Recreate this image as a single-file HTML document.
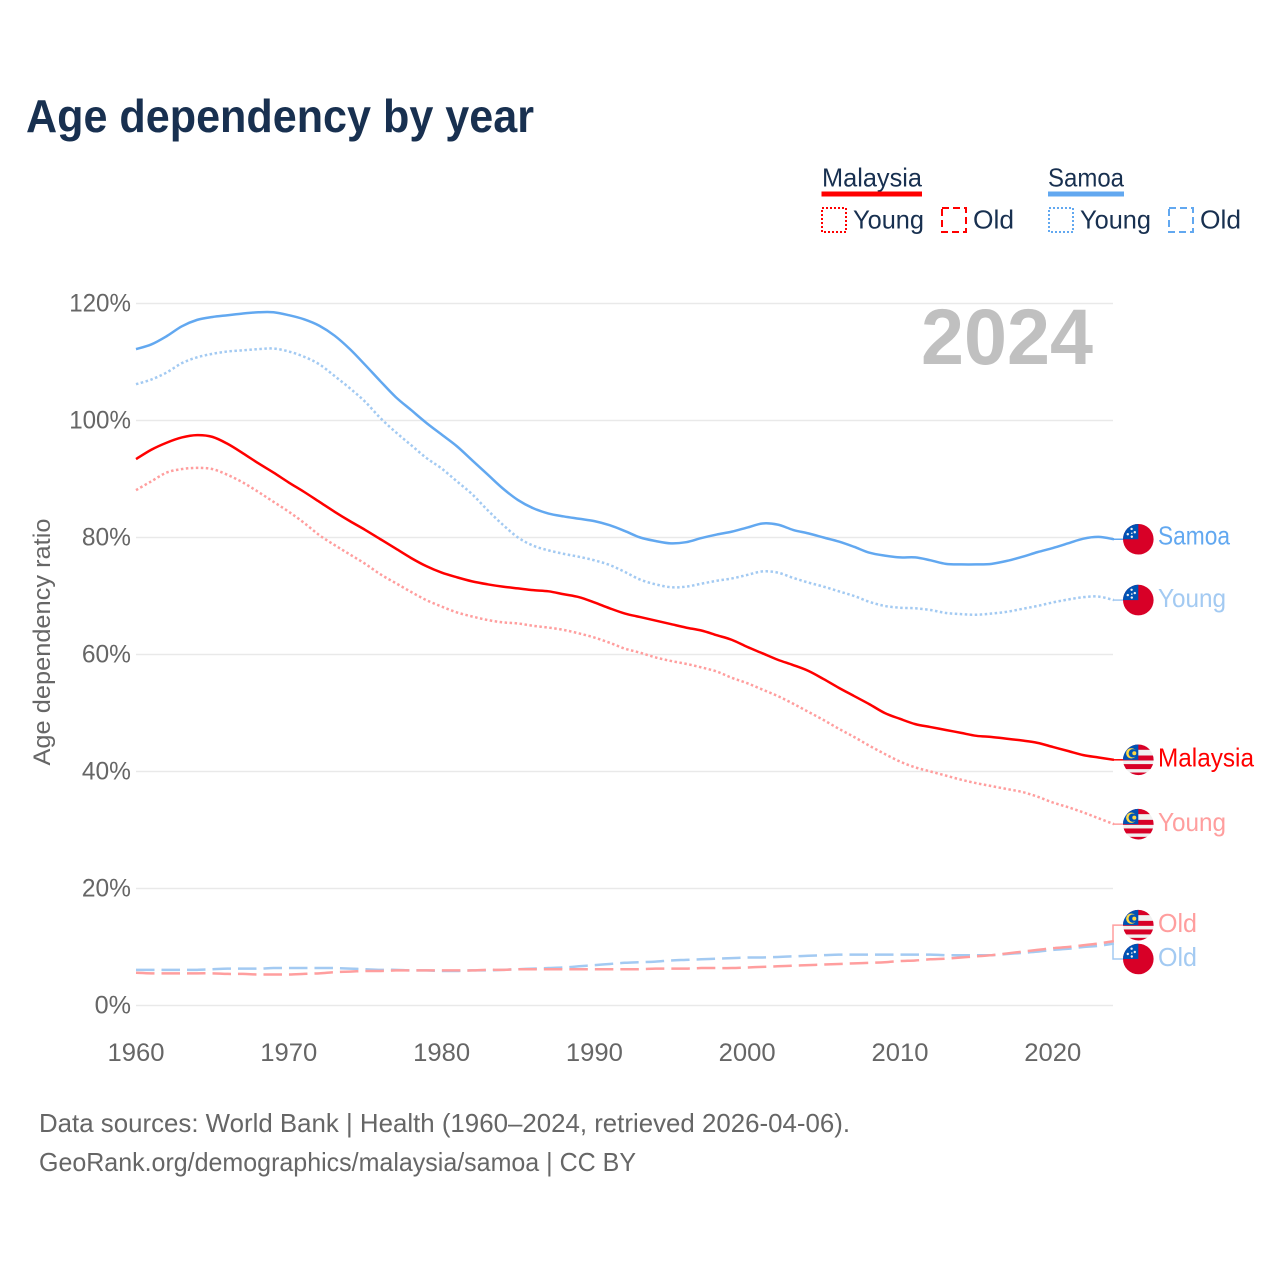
<!DOCTYPE html>
<html lang="en">
<head>
<meta charset="utf-8">
<title>Age dependency by year</title>
<style>
html,body{margin:0;padding:0;background:#fff;}
svg{display:block;font-family:"Liberation Sans",sans-serif;}
</style>
</head>
<body>
<svg id="chart" width="1280" height="1280" viewBox="0 0 1280 1280" xmlns="http://www.w3.org/2000/svg">
<defs>
<clipPath id="flag-clip"><circle cx="0" cy="0" r="15.3"/></clipPath>
<g id="flag-my" clip-path="url(#flag-clip)">
  <rect x="-16" y="-16" width="32" height="32" fill="#f0f0f0"/>
  <rect x="-16" y="-16" width="32" height="6" fill="#d80027"/>
  <rect x="-16" y="-4.3" width="32" height="5" fill="#d80027"/>
  <rect x="-16" y="4.3" width="32" height="5" fill="#d80027"/>
  <rect x="-16" y="12.7" width="32" height="4" fill="#d80027"/>
  <rect x="-16" y="-16" width="16" height="16" fill="#0052b4"/>
  <circle cx="-7" cy="-6.5" r="5.2" fill="#ffda44"/>
  <circle cx="-5.5" cy="-6.5" r="4.2" fill="#0052b4"/>
  <circle cx="-4" cy="-6.5" r="2" fill="#ffda44"/>
</g>
<g id="flag-ws" clip-path="url(#flag-clip)">
  <rect x="-16" y="-16" width="32" height="32" fill="#d80027"/>
  <rect x="-16" y="-16" width="16" height="16" fill="#0052b4"/>
  <circle cx="-6.7" cy="-10.3" r="1.2" fill="#f0f0f0"/>
  <circle cx="-3.5" cy="-7" r="1.2" fill="#f0f0f0"/>
  <circle cx="-10.5" cy="-5" r="1.2" fill="#f0f0f0"/>
  <circle cx="-6.5" cy="-6" r="0.8" fill="#f0f0f0"/>
  <circle cx="-6.5" cy="-2.5" r="1.2" fill="#f0f0f0"/>
</g>
</defs>

<text x="26" y="132" font-size="46" font-weight="700" fill="#183050" textLength="508" lengthAdjust="spacingAndGlyphs">Age dependency by year</text>

<g>
  <g>
    <text x="822" y="186.5" font-size="26" fill="#183050" textLength="100" lengthAdjust="spacingAndGlyphs">Malaysia</text>
    <rect x="821.5" y="191.5" width="100.5" height="5" fill="#ff0000"/>
    <rect x="822" y="208" width="24" height="24" fill="none" stroke="#ff0000" stroke-width="2" stroke-dasharray="2 2"/>
    <text x="853" y="228.5" font-size="26" fill="#183050" textLength="71" lengthAdjust="spacingAndGlyphs">Young</text>
    <rect x="942" y="208" width="24" height="24" fill="none" stroke="#ff0000" stroke-width="2" stroke-dasharray="7 4"/>
    <text x="973" y="228.5" font-size="26" fill="#183050" textLength="41" lengthAdjust="spacingAndGlyphs">Old</text>
  </g>
  <g>
    <text x="1048" y="186.5" font-size="26" fill="#183050" textLength="76" lengthAdjust="spacingAndGlyphs">Samoa</text>
    <rect x="1048" y="191.5" width="76" height="5" fill="#62a8f0"/>
    <rect x="1049" y="208" width="24" height="24" fill="none" stroke="#62a8f0" stroke-width="2" stroke-dasharray="2 2"/>
    <text x="1080" y="228.5" font-size="26" fill="#183050" textLength="71" lengthAdjust="spacingAndGlyphs">Young</text>
    <rect x="1169" y="208" width="24" height="24" fill="none" stroke="#62a8f0" stroke-width="2" stroke-dasharray="7 4"/>
    <text x="1200" y="228.5" font-size="26" fill="#183050" textLength="41" lengthAdjust="spacingAndGlyphs">Old</text>
  </g>
</g>

<g id="grid"></g>
<g id="y-ticks"></g>
<g id="x-ticks"></g>

<text transform="translate(50,642) rotate(-90)" text-anchor="middle" font-size="24" fill="#666666" textLength="247" lengthAdjust="spacingAndGlyphs">Age dependency ratio</text>

<text x="921" y="364" font-size="79" font-weight="700" fill="#c0c0c0" textLength="172" lengthAdjust="spacingAndGlyphs">2024</text>

<g id="series"></g>
<g id="end-labels"></g>

<text x="39" y="1132" font-size="26" fill="#666666" textLength="811" lengthAdjust="spacingAndGlyphs">Data sources: World Bank | Health (1960–2024, retrieved 2026-04-06).</text>
<text x="39" y="1171" font-size="26" fill="#666666" textLength="597" lengthAdjust="spacingAndGlyphs">GeoRank.org/demographics/malaysia/samoa | CC BY</text>

<script>
const startYear = 1960;
const xTickYears = [1960, 1970, 1980, 1990, 2000, 2010, 2020];
const yTickValues = [0, 20, 40, 60, 80, 100, 120];

const samoaTotal = [112.2,113,114.4,116.1,117.2,117.7,118,118.3,118.5,118.5,
118,117.3,116.2,114.5,112.2,109.5,106.7,104,101.8,99.6,
97.6,95.6,93.2,90.8,88.4,86.4,85,84.1,83.6,83.2,
82.8,82.1,81.1,80,79.4,79,79.2,79.9,80.5,81,
81.7,82.4,82.2,81.3,80.7,80,79.3,78.4,77.4,76.9,
76.6,76.6,76.1,75.5,75.4,75.4,75.5,76,76.7,77.5,
78.2,79,79.8,80.1,79.7];
const samoaYoung = [106.2,107,108.2,109.8,110.8,111.4,111.8,112,112.2,112.3,
111.8,110.9,109.6,107.6,105.5,103.2,100.4,98,95.8,93.6,
91.8,89.6,87.4,84.7,82.2,80,78.6,77.8,77.2,76.7,
76.1,75.3,74.1,72.8,72,71.5,71.6,72.1,72.6,73,
73.6,74.2,74,73.1,72.3,71.6,70.8,70,69,68.3,
68,67.9,67.6,67.1,66.9,66.8,67,67.3,67.8,68.3,
68.9,69.4,69.8,69.9,69.3];
const samoaOld = [6.1,6.1,6.1,6.1,6.1,6.2,6.3,6.3,6.3,6.4,
6.4,6.4,6.4,6.4,6.3,6.2,6.1,6.1,6,6,
5.9,5.9,6,6,6.1,6.2,6.3,6.4,6.5,6.7,
6.9,7.1,7.3,7.4,7.5,7.7,7.8,7.9,8,8.1,
8.2,8.2,8.3,8.4,8.5,8.6,8.7,8.7,8.7,8.7,
8.7,8.7,8.7,8.6,8.6,8.6,8.6,8.8,9,9.2,
9.5,9.7,10,10.2,10.6];
const malaysiaTotal = [93.4,95,96.2,97.1,97.5,97.2,96,94.4,92.7,91.1,
89.4,87.8,86.1,84.4,82.8,81.3,79.7,78.1,76.5,75.1,
74,73.2,72.5,72,71.6,71.3,71,70.8,70.3,69.8,
68.9,67.9,67,66.4,65.8,65.2,64.6,64.1,63.3,62.5,
61.3,60.2,59.1,58.2,57.2,55.8,54.3,52.9,51.5,50,
49,48.1,47.6,47.1,46.6,46.1,45.9,45.6,45.3,44.9,
44.2,43.5,42.8,42.4,42];
const malaysiaYoung = [88.1,89.6,91.1,91.7,91.9,91.7,90.7,89.4,87.8,86.1,
84.4,82.5,80.4,78.7,77.1,75.5,73.7,72.2,70.7,69.3,
68.2,67.2,66.5,65.9,65.5,65.3,64.9,64.6,64.2,63.6,
62.9,62,61,60.3,59.5,58.9,58.4,57.8,57.1,56,
55.1,54,52.9,51.6,50.2,48.8,47.3,45.9,44.4,43,
41.7,40.7,40,39.3,38.6,38,37.5,37,36.5,35.7,
34.7,33.9,33,32,31];
const malaysiaOld = [5.6,5.5,5.5,5.5,5.5,5.5,5.4,5.4,5.3,5.3,
5.3,5.4,5.5,5.7,5.8,5.9,5.9,6,6,6,
6,6,6,6.1,6.1,6.2,6.2,6.2,6.2,6.2,
6.2,6.2,6.2,6.2,6.3,6.3,6.3,6.4,6.4,6.4,
6.5,6.6,6.7,6.8,6.9,7,7.1,7.2,7.3,7.4,
7.6,7.7,7.9,8,8.2,8.4,8.6,8.9,9.2,9.5,
9.8,10,10.3,10.6,11];

const NS = 'http://www.w3.org/2000/svg';
function xScale(year) { return 136 + (year - 1960) * 15.28; }
function yScale(value) { return 1005.5 - value * 5.85; }
function mk(tag, parent, attrs, text) {
  const node = document.createElementNS(NS, tag);
  for (const k in attrs) node.setAttribute(k, attrs[k]);
  if (text !== undefined) node.textContent = text;
  parent.appendChild(node);
  return node;
}
function pathOf(values) {
  const pts = values.map(function (v, i) { return [xScale(startYear + i), yScale(v)]; });
  let d = 'M' + pts[0][0].toFixed(2) + ' ' + pts[0][1].toFixed(2);
  for (let i = 0; i < pts.length - 1; i++) {
    const p0 = pts[Math.max(i - 1, 0)];
    const p1 = pts[i];
    const p2 = pts[i + 1];
    const p3 = pts[Math.min(i + 2, pts.length - 1)];
    const c1x = p1[0] + (p2[0] - p0[0]) / 6;
    const c1y = p1[1] + (p2[1] - p0[1]) / 6;
    const c2x = p2[0] - (p3[0] - p1[0]) / 6;
    const c2y = p2[1] - (p3[1] - p1[1]) / 6;
    d += 'C' + c1x.toFixed(2) + ' ' + c1y.toFixed(2) + ' ' + c2x.toFixed(2) + ' ' + c2y.toFixed(2) + ' ' + p2[0].toFixed(2) + ' ' + p2[1].toFixed(2);
  }
  return d;
}

const gridGroup = document.getElementById('grid');
const yTickGroup = document.getElementById('y-ticks');
yTickValues.forEach(function (v) {
  const gridLine = mk('line', gridGroup, { x1: 136, x2: 1113, y1: yScale(v), y2: yScale(v), stroke: '#e9e9e9', 'stroke-width': 1.5 });
  
  
  const label = String(v) + '%';
  const tick = mk('text', yTickGroup, { x: 131, y: yScale(v) + 8, 'text-anchor': 'end', 'font-size': 25, fill: '#666666', textLength: 11 + label.length * 12.7, lengthAdjust: 'spacingAndGlyphs' }, label);
  
  
});

const xTickGroup = document.getElementById('x-ticks');
xTickYears.forEach(function (yr) {
  const tick = mk('text', xTickGroup, { x: xScale(yr), y: 1061, 'text-anchor': 'middle', 'font-size': 25, fill: '#666666', textLength: 57, lengthAdjust: 'spacingAndGlyphs' }, String(yr));
  
  
});

const seriesGroup = document.getElementById('series');
function drawSeries(values, color, dash, width) {
  const attrs = { d: pathOf(values), fill: 'none', stroke: color, 'stroke-width': width, 'stroke-linejoin': 'round' };
  if (dash) attrs['stroke-dasharray'] = dash;
  return mk('path', seriesGroup, attrs);
}
const lineSamoaOld = drawSeries(samoaOld, '#a3caf2', '18.5 7', 2.5);


const lineMalaysiaOld = drawSeries(malaysiaOld, '#ff9e9e', '18.5 7', 2.5);


const lineSamoaYoung = drawSeries(samoaYoung, '#a3caf2', '2.5 2.5', 2.5);


const lineMalaysiaYoung = drawSeries(malaysiaYoung, '#ff9e9e', '2.5 2.5', 2.5);


const lineSamoa = drawSeries(samoaTotal, '#62a8f0', null, 2.5);


const lineMalaysia = drawSeries(malaysiaTotal, '#ff0000', null, 2.5);



const labelGroup = document.getElementById('end-labels');
function drawEnd(values, nudge, color, flag, text, textWidth, textNudge) {
  const endY = yScale(values[values.length - 1]);
  const y = endY + nudge;
  const g = mk('g', labelGroup, {});
  mk('polyline', g, { points: '1113,' + endY + ' 1113,' + y + ' 1124,' + y, fill: 'none', stroke: color, 'stroke-width': 1.5 });
  mk('use', g, { href: '#' + flag, transform: 'translate(1138.3,' + y + ')' });
  mk('text', g, { x: 1158, y: y + 6.8 + textNudge, 'font-size': 26, fill: color, textLength: textWidth, lengthAdjust: 'spacingAndGlyphs' }, text);
  return g;
}
const endSamoa = drawEnd(samoaTotal, 0, '#62a8f0', 'flag-ws', 'Samoa', 72, -1.5);


const endSamoaYoung = drawEnd(samoaYoung, 0, '#a3caf2', 'flag-ws', 'Young', 68, 0);


const endMalaysia = drawEnd(malaysiaTotal, 0, '#ff0000', 'flag-my', 'Malaysia', 96, 0);


const endMalaysiaYoung = drawEnd(malaysiaYoung, 0, '#ff9e9e', 'flag-my', 'Young', 68, 0);


const endMalaysiaOld = drawEnd(malaysiaOld, -16, '#ff9e9e', 'flag-my', 'Old', 39, 0);


const endSamoaOld = drawEnd(samoaOld, 15.5, '#a3caf2', 'flag-ws', 'Old', 39, 0);


</script>
</svg>
</body>
</html>
